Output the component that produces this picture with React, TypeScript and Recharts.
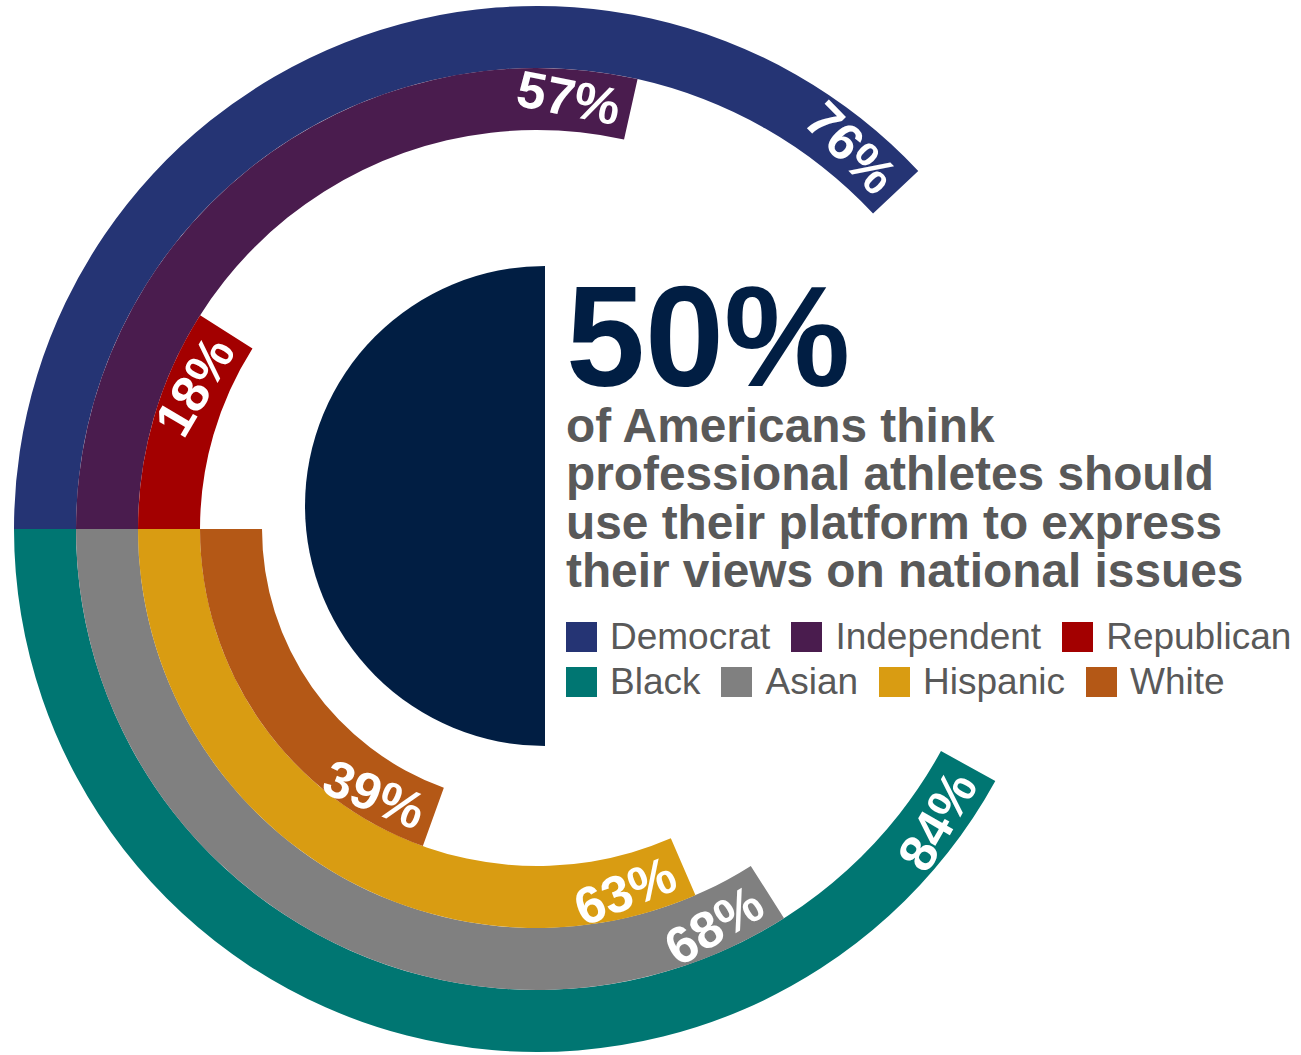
import React from 'react';
import { PieChart, Pie, Cell } from 'recharts';

const partyNames = ['Democrat', 'Independent', 'Republican'];
const partyValues = [76, 57, 18];
const raceNames = ['Black', 'Asian', 'Hispanic', 'White'];
const raceValues = [84, 68, 63, 39];
const overallValue = 50;
const subtitleLines = [
  'of Americans think',
  'professional athletes should',
  'use their platform to express',
  'their views on national issues',
];

const partyColors = ['#253474', '#4a1c4e', '#a30000'];
const raceColors = ['#007672', '#808080', '#d99c12', '#b45816'];
const NAVY = '#011e43';
const GREY = '#595959';
const FONT = '"Liberation Sans", Arial, Helvetica, sans-serif';

const W = 1301;
const H = 1055;
const CX = 537;
const CY = 529;
const OUTER = 523;
const RING = 62;

const toRing = (name: string, value: number) => [
  { name, value },
  { name: 'rest', value: 100 - value },
];

// white % label sitting just before the end of the arc, rotated along it
const endLabel = (props: any) => {
  const { cx, cy, innerRadius, outerRadius, startAngle, endAngle, value, index } = props;
  if (index !== 0) return null;
  const r = (innerRadius + outerRadius) / 2;
  const dir = endAngle < startAngle ? -1 : 1;
  const a = endAngle - (dir * (11 / r) * 180) / Math.PI;
  const rad = (a * Math.PI) / 180;
  const x = cx + r * Math.cos(rad);
  const y = cy - r * Math.sin(rad);
  const rot = dir < 0 ? 90 - a : -(a + 90);
  return (
    <text
      x={x}
      y={y}
      dy="0.36em"
      transform={`rotate(${rot} ${x} ${y})`}
      textAnchor="end"
      fill="#fff"
      fontFamily={FONT}
      fontWeight="bold"
      fontSize={52}
    >
      {`${value}%`}
    </text>
  );
};

const legendRows = [
  partyNames.map((n, i) => ({ name: n, color: partyColors[i] })),
  raceNames.map((n, i) => ({ name: n, color: raceColors[i] })),
];

export default function App() {
  return (
    <div style={{ position: 'absolute', left: 0, top: 0, width: W, height: H, background: '#fff' }}>
      <PieChart width={W} height={H} margin={{ top: 0, right: 0, bottom: 0, left: 0 }}>
        {partyValues.map((v, i) => (
          <Pie
            key={partyNames[i]}
            data={toRing(partyNames[i], v)}
            dataKey="value"
            cx={CX}
            cy={CY}
            startAngle={180}
            endAngle={0}
            outerRadius={OUTER - i * RING}
            innerRadius={OUTER - (i + 1) * RING}
            stroke="none"
            label={endLabel}
            labelLine={false}
            isAnimationActive={false}
          >
            <Cell fill={partyColors[i]} />
            <Cell fill="transparent" />
          </Pie>
        ))}
        {raceValues.map((v, i) => (
          <Pie
            key={raceNames[i]}
            data={toRing(raceNames[i], v)}
            dataKey="value"
            cx={CX}
            cy={CY}
            startAngle={180}
            endAngle={360}
            outerRadius={OUTER - i * RING}
            innerRadius={OUTER - (i + 1) * RING}
            stroke="none"
            label={endLabel}
            labelLine={false}
            isAnimationActive={false}
          >
            <Cell fill={raceColors[i]} />
            <Cell fill="transparent" />
          </Pie>
        ))}
        <Pie
          data={toRing('Overall', overallValue)}
          dataKey="value"
          cx={545}
          cy={506}
          startAngle={90}
          endAngle={450}
          outerRadius={240}
          innerRadius={0}
          stroke="none"
          isAnimationActive={false}
        >
          <Cell fill={NAVY} />
          <Cell fill="transparent" />
        </Pie>
      </PieChart>

      <svg
        width={W}
        height={H}
        style={{ position: 'absolute', left: 0, top: 0, pointerEvents: 'none' }}
      >
        <text x={566} y={386} fill={NAVY} fontFamily={FONT} fontWeight="bold" fontSize={142}>
          {`${overallValue}%`}
        </text>
        {subtitleLines.map((line, i) => (
          <text
            key={line}
            x={566}
            y={442 + i * 48.3}
            fill={GREY}
            fontFamily={FONT}
            fontWeight="bold"
            fontSize={47.8}
          >
            {line}
          </text>
        ))}
      </svg>

      <div style={{ position: 'absolute', left: 566, top: 622, fontFamily: FONT, color: GREY }}>
        {legendRows.map((row, r) => (
          <div key={r} style={{ display: 'flex', alignItems: 'center', height: 30, marginBottom: 15 }}>
            {row.map((it) => (
              <div key={it.name} style={{ display: 'flex', alignItems: 'center', marginRight: 21 }}>
                <div style={{ width: 31, height: 30, background: it.color, marginRight: 13 }} />
                <span style={{ fontSize: 37, lineHeight: '30px', whiteSpace: 'nowrap' }}>{it.name}</span>
              </div>
            ))}
          </div>
        ))}
      </div>
    </div>
  );
}
